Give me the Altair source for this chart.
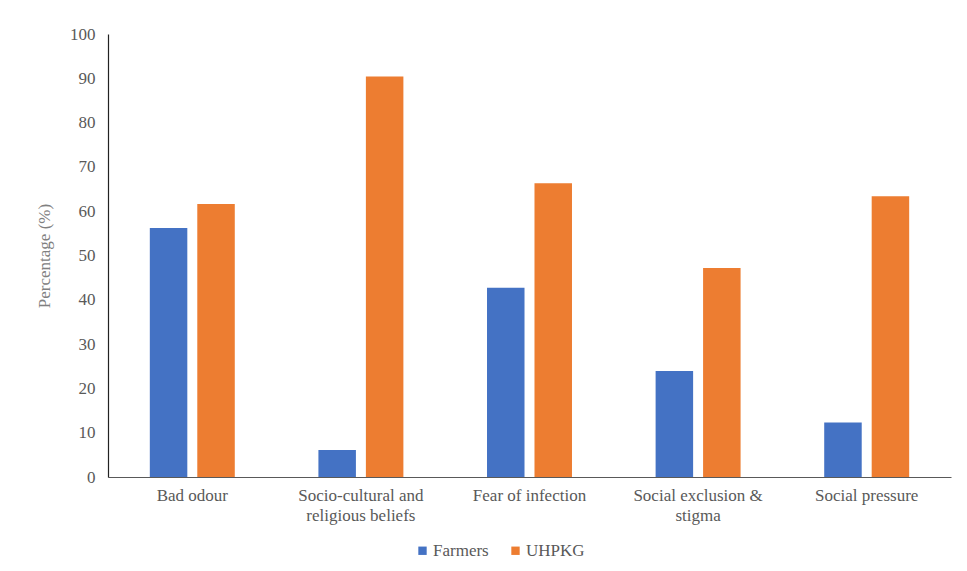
import altair as alt
import pandas as pd

categories = ["Bad odour", "Socio-cultural and|religious  beliefs", "Fear of infection",
              "Social exclusion &|stigma", "Social pressure"]
farmers = [56.2, 6.1, 42.7, 23.9, 12.3]
uhpkg = [61.6, 90.4, 66.3, 47.2, 63.4]
series = ["Farmers", "UHPKG"]
colors = ["#4472C4", "#ED7D31"]

rows = []
for c, f, u in zip(categories, farmers, uhpkg):
    rows.append({"cat": c, "group": series[0], "value": f})
    rows.append({"cat": c, "group": series[1], "value": u})
df = pd.DataFrame(rows)

FONT = "Times New Roman, Liberation Serif, DejaVu Serif, serif"

chart = alt.Chart(df).mark_bar().encode(
    x=alt.X("cat:N", sort=categories,
            scale=alt.Scale(paddingInner=0.496, paddingOuter=0.248),
            axis=alt.Axis(title=None, labelAngle=0, labelExpr="split(datum.label, '|')",
                          labelFont=FONT, labelFontSize=17, labelColor="#595959",
                          labelPadding=10, labelLineHeight=20, ticks=False,
                          domainColor="#595959", domainWidth=1.2)),
    xOffset=alt.XOffset("group:N", sort=series, scale=alt.Scale(paddingInner=0.21)),
    y=alt.Y("value:Q", scale=alt.Scale(domain=[0, 100], nice=False),
            axis=alt.Axis(title="Percentage (%)", values=list(range(0, 101, 10)),
                          grid=False, ticks=False, labelFont=FONT, labelFontSize=17,
                          labelColor="#595959", labelPadding=13,
                          titleFont=FONT, titleFontSize=17, titleFontWeight="normal",
                          titleColor="#808080", titlePadding=16,
                          domainColor="#222222", domainWidth=1.2)),
    color=alt.Color("group:N", sort=series,
                    scale=alt.Scale(domain=series, range=colors),
                    legend=alt.Legend(title=None, orient="none", direction="horizontal",
                                      legendX=306, legendY=508, symbolType="square",
                                      symbolSize=70, symbolStrokeWidth=0,
                                      labelFont=FONT, labelFontSize=17,
                                      labelColor="#595959", columnPadding=18,
                                      labelOffset=2)),
).properties(
    width=843, height=443,
    autosize=alt.AutoSizeParams(type="none"),
    padding={"left": 100, "top": 26, "right": 8, "bottom": 88},
).configure(background="white", font=FONT).configure_view(strokeWidth=0, stroke="transparent")

chart.save("out.html", embed_options={"renderer": "svg", "actions": False})
